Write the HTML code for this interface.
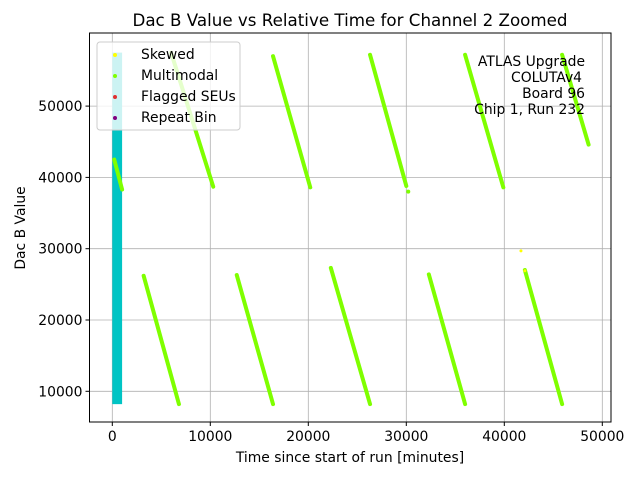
<!DOCTYPE html>
<html><head><meta charset="utf-8"><style>
body{margin:0;background:#fff}
svg{font-family:"DejaVu Sans","Liberation Sans",sans-serif}
</style></head><body>
<svg width="640" height="480" viewBox="0 0 640 480">
<rect width="640" height="480" fill="#fff"/>
<g id="grid"></g>
<g id="marks"></g>
<g id="axes"></g>
<text x="350" y="26" font-size="16.7" text-anchor="middle">Dac B Value vs Relative Time for Channel 2 Zoomed</text>
<text x="350" y="462" font-size="13.9" text-anchor="middle">Time since start of run [minutes]</text>
<text transform="translate(25,228) rotate(-90)" font-size="13.9" text-anchor="middle">Dac B Value</text>
<g font-size="13.9" text-anchor="end">
<text x="585" y="66">ATLAS Upgrade</text>
<text x="582" y="82">COLUTAv4</text>
<text x="585" y="98">Board 96</text>
<text x="585" y="114">Chip 1, Run 232</text>
</g>
<g>
<rect x="97" y="42" width="143" height="88" rx="3" fill="#fff" fill-opacity="0.8" stroke="#ccc"/>
<circle cx="115" cy="55" r="2" fill="#ffff00"/>
<text x="141" y="59" font-size="13.9">Skewed</text>
<circle cx="115" cy="76" r="2" fill="#7fff00"/>
<text x="141" y="80" font-size="13.9">Multimodal</text>
<circle cx="115" cy="97" r="2" fill="#e03030"/>
<text x="141" y="101" font-size="13.9">Flagged SEUs</text>
<circle cx="115" cy="118" r="2" fill="#800080"/>
<text x="141" y="122" font-size="13.9">Repeat Bin</text>
</g>
</svg>
<script>
const xTicks=[0,10000,20000,30000,40000,50000];
const yTicks=[10000,20000,30000,40000,50000];
// multimodal descending segments: start time, start value, end time, end value
const segX0=[200,3200,6000,12700,16400,22300,26300,32300,36000,42100,45900];
const segY0=[42500,26200,57500,26300,57000,27300,57200,26400,57200,27000,57200];
const segX1=[1000,6800,10300,16400,20200,26300,30000,36000,39900,45900,48600];
const segY1=[38300,8200,38700,8200,38600,8200,38800,8200,38600,8200,44600];
const isoX=[30200];const isoY=[38000];
const skewX=[41700,42100];const skewY=[29700,26900];
// cyan band
const bandX=[0,1000];const bandY=[8200,57500];
const L=89.5,R=611,T=33,B=422;
const sx=v=>112.3+v*0.0098;
const sy=v=>391.3-(v-10000)*0.00713;
const NS="http://www.w3.org/2000/svg";
function mk(t,a,p){const e=document.createElementNS(NS,t);for(const k in a)e.setAttribute(k,a[k]);p.appendChild(e);return e;}
const g=document.getElementById('grid'),m=document.getElementById('marks'),ax=document.getElementById('axes');
xTicks.forEach(v=>{const x=sx(v);
const l=mk('line',{x1:x,x2:x,y1:T,y2:B,stroke:'#b0b0b0','stroke-width':0.8},g);


mk('line',{x1:x,x2:x,y1:B,y2:B+4,stroke:'#000'},ax);
const t=mk('text',{x:x,y:B+19,'font-size':13.9,'text-anchor':'middle'},ax);t.textContent=v;

});
yTicks.forEach(v=>{const y=sy(v);
const l=mk('line',{x1:L,x2:R,y1:y,y2:y,stroke:'#b0b0b0','stroke-width':0.8},g);


mk('line',{x1:L-4,x2:L,y1:y,y2:y,stroke:'#000'},ax);
const t=mk('text',{x:L-7,y:y+5,'font-size':13.9,'text-anchor':'end'},ax);t.textContent=v;

});
const fr=mk('rect',{x:L,y:T,width:R-L,height:B-T,fill:'none',stroke:'#000','stroke-width':1},ax);


const band=mk('rect',{x:sx(bandX[0]),y:sy(bandY[1]),width:sx(bandX[1])-sx(bandX[0]),height:sy(bandY[0])-sy(bandY[1]),fill:'#00c4c4'},m);


for(let i=0;i<segX0.length;i++){
const l=mk('line',{x1:sx(segX0[i]),y1:sy(segY0[i]),x2:sx(segX1[i]),y2:sy(segY1[i]),stroke:'#7fff00','stroke-width':4,'stroke-linecap':'round'},m);

}
for(let i=0;i<isoX.length;i++){const c=mk('circle',{cx:sx(isoX[i]),cy:sy(isoY[i]),r:2,fill:'#7fff00'},m);

}
for(let i=0;i<skewX.length;i++){const c=mk('circle',{cx:sx(skewX[i]),cy:sy(skewY[i]),r:1.5,fill:'#ffff00'},m);

}
</script>
</body></html>
